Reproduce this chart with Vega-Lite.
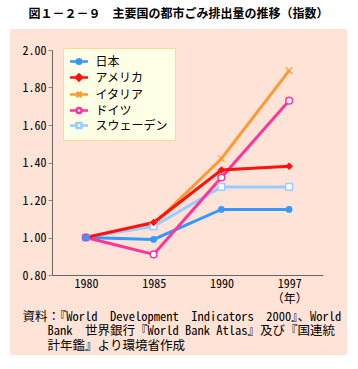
{
  "$schema": "https://vega.github.io/schema/vega-lite/v6.json",
  "width": 337,
  "height": 326,
  "autosize": {"type": "none"},
  "padding": {"left": 10, "top": 29, "right": 11, "bottom": 14},
  "background": "white",
  "config": {
    "view": {"fill": "#FFE3D6", "stroke": null},
    "font": "Noto Sans CJK JP"
  },
  "title": {
    "text": "図１－２－９　主要国の都市ごみ排出量の推移（指数）",
    "anchor": "middle",
    "frame": "group",
    "offset": 8,
    "fontSize": 12,
    "fontWeight": "bold",
    "font": "Noto Sans CJK JP",
    "color": "black"
  },
  "data": {
    "values": [
      {"country": "イタリア", "year": "1980", "value": 1.00},
      {"country": "イタリア", "year": "1985", "value": 1.07},
      {"country": "イタリア", "year": "1990", "value": 1.42},
      {"country": "イタリア", "year": "1997", "value": 1.89},
      {"country": "スウェーデン", "year": "1980", "value": 1.00},
      {"country": "スウェーデン", "year": "1985", "value": 1.06},
      {"country": "スウェーデン", "year": "1990", "value": 1.27},
      {"country": "スウェーデン", "year": "1997", "value": 1.27},
      {"country": "日本", "year": "1980", "value": 1.00},
      {"country": "日本", "year": "1985", "value": 0.99},
      {"country": "日本", "year": "1990", "value": 1.15},
      {"country": "日本", "year": "1997", "value": 1.15},
      {"country": "ドイツ", "year": "1980", "value": 1.00},
      {"country": "ドイツ", "year": "1985", "value": 0.91},
      {"country": "ドイツ", "year": "1990", "value": 1.32},
      {"country": "ドイツ", "year": "1997", "value": 1.73},
      {"country": "アメリカ", "year": "1980", "value": 1.00},
      {"country": "アメリカ", "year": "1985", "value": 1.08},
      {"country": "アメリカ", "year": "1990", "value": 1.36},
      {"country": "アメリカ", "year": "1997", "value": 1.38}
    ]
  },
  "encoding": {
    "x": {
      "field": "year",
      "type": "ordinal",
      "scale": {"type": "point", "range": [42, 313], "padding": 0.5},
      "axis": {
        "offset": -80,
        "ticks": false,
        "labelAngle": 0,
        "labelPadding": 3,
        "labelExpr": "datum.value == '1997' ? ['1997', '（年）'] : datum.label",
        "labelLineHeight": 15,
        "labelFont": "Noto Sans Mono CJK JP, DejaVu Sans Mono, Noto Sans CJK JP",
        "labelFontSize": 12,
        "labelColor": "black",
        "domainColor": "#666666",
        "grid": false,
        "title": [
          "資料：『World\u00a0 Development\u00a0 Indicators\u00a0 2000』、World",
          "\u200b\u00a0\u00a0\u00a0\u00a0Bank\u00a0 世界銀行『World Bank Atlas』及び『国連統",
          "\u200b\u00a0\u00a0\u00a0\u00a0計年鑑』より環境省作成"
        ],
        "titleAnchor": "start",
        "titleAlign": "left",
        "titleBaseline": "top",
        "titleX": 12,
        "titleY": 35,
        "titleFont": "Noto Sans Mono CJK JP, DejaVu Sans Mono, Noto Sans CJK JP",
        "titleFontSize": 12.5,
        "titleFontWeight": "normal",
        "titleLineHeight": 14.5,
        "titleColor": "black"
      }
    },
    "y": {
      "field": "value",
      "type": "quantitative",
      "scale": {"domain": [0.8, 2.0], "range": [246, 21], "zero": false, "nice": false},
      "axis": {
        "values": [0.8, 1.0, 1.2, 1.4, 1.6, 1.8, 2.0],
        "format": ".2f",
        "offset": -42,
        "grid": false,
        "tickSize": 4,
        "tickColor": "#888888",
        "domainColor": "#666666",
        "labelPadding": 2,
        "labelFont": "Noto Sans Mono CJK JP, DejaVu Sans Mono, Noto Sans CJK JP",
        "labelFontSize": 12,
        "labelColor": "black",
        "title": null
      }
    }
  },
  "layer": [
    {
      "mark": {"type": "line", "strokeWidth": 3},
      "encoding": {
        "color": {
          "field": "country",
          "type": "nominal",
          "scale": {
            "domain": ["日本", "アメリカ", "イタリア", "ドイツ", "スウェーデン"],
            "range": ["#3399FF", "#FF1111", "#FF9933", "#FF3399", "#99CCFF"]
          },
          "legend": {
            "orient": "none",
            "legendX": 53,
            "legendY": 19,
            "title": null,
            "fillColor": "#FFFFE6",
            "strokeColor": "#FFD89A",
            "padding": 7,
            "rowPadding": 0,
            "symbolSize": 100,
            "symbolStrokeWidth": 2.5,
            "symbolOffset": 2.5,
            "labelOffset": 10,
            "labelFontSize": 12,
            "labelFont": "Noto Sans CJK JP",
            "labelColor": "black",
            "labelLimit": 200,
            "encode": {
              "symbols": {
                "update": {
                  "shape": {"signal": "datum.value === '日本' ? 'M-1.8,0H1.8M0.45,0A0.45,0.45,0,1,1,-0.45,0A0.45,0.45,0,1,1,0.45,0Z' : datum.value === 'アメリカ' ? 'M-1.8,0H1.8M0,-0.6L0.6,0L0,0.6L-0.6,0Z' : datum.value === 'イタリア' ? 'M-1.8,0H1.8M-0.45,-0.55L0.45,0.55M-0.45,0.55L0.45,-0.55' : datum.value === 'ドイツ' ? 'M-1.8,0H-0.5M0.5,0H1.8M0.5,0A0.5,0.5,0,1,1,-0.5,0A0.5,0.5,0,1,1,0.5,0Z' : 'M-1.8,0H-0.5M0.5,0H1.8M-0.5,-0.5H0.5V0.5H-0.5Z'"},
                  "fill": {"signal": "datum.value === '日本' ? '#3399FF' : datum.value === 'アメリカ' ? '#FF1111' : datum.value === 'イタリア' ? 'transparent' : 'white'"},
                  "stroke": {"signal": "datum.value === '日本' ? '#3399FF' : datum.value === 'アメリカ' ? '#FF1111' : datum.value === 'イタリア' ? '#FF9933' : datum.value === 'ドイツ' ? '#FF3399' : '#99CCFF'"},
                  "strokeWidth": {"value": 2.5},
                  "opacity": {"value": 1}
                }
              }
            }
          }
        }
      }
    },
    {
      "transform": [{"filter": "datum.country === 'イタリア'"}],
      "mark": {"type": "point", "shape": "M-1,-1L1,1M-1,1L1,-1", "size": 40, "filled": false, "stroke": "#FF9933", "strokeWidth": 1.2, "opacity": 1}
    },
    {
      "transform": [{"filter": "datum.country === 'スウェーデン'"}],
      "mark": {"type": "point", "shape": "square", "size": 45, "filled": true, "fill": "white", "stroke": "#99CCFF", "strokeWidth": 1.5, "opacity": 1}
    },
    {
      "transform": [{"filter": "datum.country === 'ドイツ'"}],
      "mark": {"type": "point", "shape": "circle", "size": 45, "filled": true, "fill": "white", "stroke": "#FF3399", "strokeWidth": 1.5, "opacity": 1}
    },
    {
      "transform": [{"filter": "datum.country === 'アメリカ'"}],
      "mark": {"type": "point", "shape": "diamond", "size": 60, "filled": true, "fill": "#FF1111", "opacity": 1}
    },
    {
      "transform": [{"filter": "datum.country === '日本'"}],
      "mark": {"type": "point", "shape": "circle", "size": 45, "filled": true, "fill": "#3399FF", "opacity": 1}
    }
  ]
}
